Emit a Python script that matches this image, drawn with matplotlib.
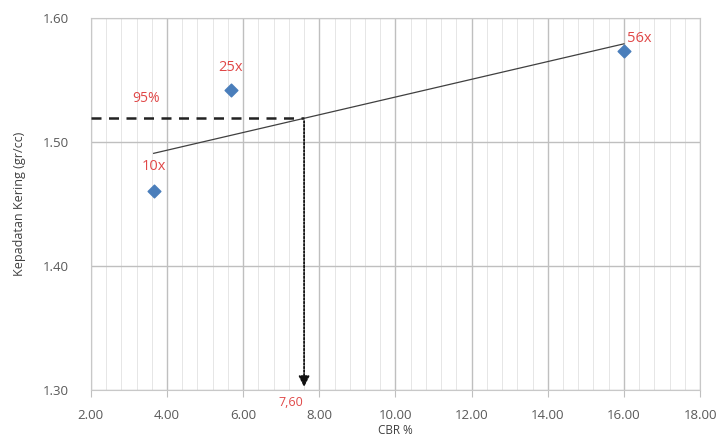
import numpy as np
import matplotlib
matplotlib.use('Agg')
import matplotlib.pyplot as plt
from matplotlib.ticker import MultipleLocator, FormatStrFormatter

plt.rcParams['font.family'] = ['Open Sans', 'DejaVu Sans']

# data
cbr = [3.65, 5.68, 16.0]
density = [1.460, 1.542, 1.573]
point_labels = ['10x', '25x', '56x']
cbr_95 = 7.60
label_95 = '95%'
label_cbr = '7,60'

fig = plt.figure(figsize=(7.21, 4.46), dpi=100)
ax = fig.add_axes([0.126, 0.126, 0.845, 0.834])

# linear trend line over the points
k, b = np.polyfit(cbr, density, 1)
xt = np.array([min(cbr), max(cbr)])
ax.plot(xt, k * xt + b, color='#404040', lw=0.9, zorder=3)

ax.scatter(cbr, density, marker='D', s=42, color='#4a7ebb', zorder=4)

ax.text(cbr[0], 1.474, point_labels[0], color='#e04848', fontsize=10.5, ha='center', va='bottom')
ax.text(cbr[1], density[1] + 0.012, point_labels[1], color='#e04848', fontsize=10.5, ha='center', va='bottom')
ax.text(cbr[2] + 0.4, density[2] + 0.004, point_labels[2], color='#e04848', fontsize=10.5, ha='center', va='bottom')

y95 = k * cbr_95 + b
ax.plot([2.0, cbr_95], [y95, y95], color='#222222', lw=1.8, ls=(0, (4, 3)), zorder=3)
ax.annotate('', xy=(cbr_95, 1.300), xytext=(cbr_95, y95),
            arrowprops=dict(arrowstyle='-|>', color='#111111', lw=1.3,
                            linestyle=(0, (1, 1)), mutation_scale=16),
            zorder=5)
ax.text(3.45, y95 + 0.01, label_95, color='#e04848', fontsize=10, ha='center', va='bottom')
ax.text(cbr_95 - 0.35, 1.295, label_cbr, color='#e04848', fontsize=9, ha='center', va='top')

ax.set_xlim(2, 18)
ax.set_ylim(1.30, 1.60)
ax.xaxis.set_major_locator(MultipleLocator(2))
ax.xaxis.set_minor_locator(MultipleLocator(0.4))
ax.yaxis.set_major_locator(MultipleLocator(0.1))
ax.xaxis.set_major_formatter(FormatStrFormatter('%.2f'))
ax.yaxis.set_major_formatter(FormatStrFormatter('%.2f'))

ax.grid(which='major', color='#bfbfbf', lw=1.0)
ax.grid(which='minor', axis='x', color='#e6e6e6', lw=0.7)
ax.set_axisbelow(True)

for s in ax.spines.values():
  s.set_color('#c8c8c8')
ax.tick_params(axis='x', which='major', length=5, color='#bfbfbf', labelsize=9.5, labelcolor='#595959', pad=9)
ax.tick_params(axis='x', which='minor', length=0)
ax.tick_params(axis='y', length=0, labelsize=9.5, labelcolor='#595959', pad=16)

ax.set_xlabel('CBR %', fontsize=8.5, color='#404040', labelpad=1)
ax.set_ylabel('Kepadatan Kering (gr/cc)', fontsize=9, color='#404040', labelpad=12)

fig.savefig('out.png', dpi=100)
